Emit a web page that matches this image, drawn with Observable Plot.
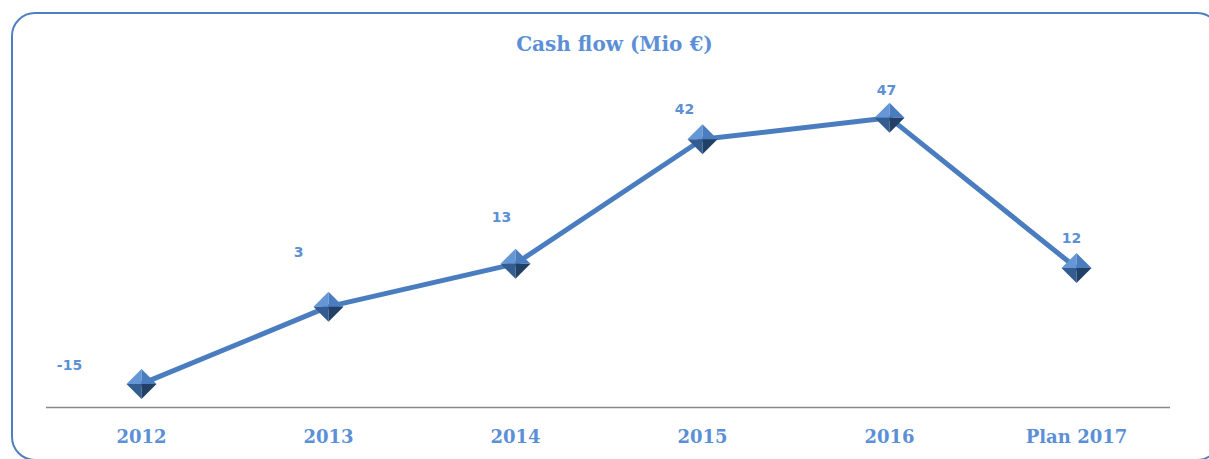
<!DOCTYPE html>
<html>
<head>
<meta charset="utf-8">
<script src="https://cdn.jsdelivr.net/npm/d3@7"></script>
<script src="https://cdn.jsdelivr.net/npm/@observablehq/plot@0.6"></script>
<style>
  html, body { margin: 0; padding: 0; background: #fff; }
  #wrap { position: relative; width: 1209px; height: 459px; overflow: hidden; }
  #frame { position: absolute; left: 11px; top: 12px; width: 1210px; height: 449px;
           border: 2px solid #4f7fc0; border-radius: 24px; box-sizing: border-box; }
  #title { position: absolute; left: 0; top: 32px; width: 1229px; text-align: center;
           font-family: "DejaVu Serif", serif; font-weight: bold; font-size: 20px; color: #5b8fd6; }
  #chart { position: absolute; left: 0; top: 0; }
</style>
</head>
<body>
<div id="wrap">
  <div id="frame"></div>
  <div id="title">Cash flow (Mio €)</div>
  <div id="chart"></div>
</div>
<script>
const categories = ["2012", "2013", "2014", "2015", "2016", "Plan 2017"];
const cashFlow = [-15, 3, 13, 42, 47, 12];
const labels = ["-15", "3", "13", "42", "47", "12"];

const data = categories.map((c, i) => ({cat: c, value: cashFlow[i], label: labels[i]}));
const yDomain = [-20.5, 55];

// label offsets (style: manual placement like the original)
const labelOffsets = [[-72, -18], [-30, -54], [-14, -46], [-18, -30], [-3, -27], [-5, -30]];

function facet(points) {
  return {
    draw(context, size) {
      const r = Math.sqrt(size) * 0.62625;
      context.moveTo(points[0][0] * r, points[0][1] * r);
      for (let k = 1; k < points.length; k++) context.lineTo(points[k][0] * r, points[k][1] * r);
      context.closePath();
    }
  };
}
const facets = [
  {sym: facet([[0, -1], [0, 0], [-1, 0]]), fill: "#6596d6"},
  {sym: facet([[0, -1], [1, 0], [0, 0]]), fill: "#4a7cc0"},
  {sym: facet([[-1, 0], [0, 0], [0, 1]]), fill: "#335c90"},
  {sym: facet([[0, 0], [1, 0], [0, 1]]), fill: "#223f66"}
];

const labelMarks = data.map((d, i) => Plot.text([d], {
  x: "cat", y: "value", text: "label",
  dx: labelOffsets[i][0], dy: labelOffsets[i][1],
  fill: "#5b8fd6", fontWeight: "bold", fontSize: 14, fontFamily: "DejaVu Sans, sans-serif"
}));

const chart = Plot.plot({
  width: 1209,
  height: 459,
  marginLeft: 46,
  marginRight: 39,
  marginTop: 83,
  marginBottom: 52,
  style: {background: "transparent", overflow: "visible"},
  x: {type: "point", domain: categories, padding: 0.5, label: null},
  y: {domain: yDomain, axis: null},
  marks: [
    Plot.ruleY([yDomain[0]], {stroke: "#8a8a8a", strokeWidth: 1.5}),
    Plot.axisX({tickSize: 0, tickPadding: 23, fontSize: 18, fontWeight: "bold",
                fontFamily: "DejaVu Serif, serif", fill: "#5b8fd6", label: null}),
    Plot.line(data, {x: "cat", y: "value", stroke: "#4a7dbf", strokeWidth: 5, strokeLinejoin: "round"}),
    ...facets.map(f => Plot.dot(data, {x: "cat", y: "value", symbol: f.sym, r: 13.5, fill: f.fill, stroke: "none"})),
    ...labelMarks
  ]
});
document.getElementById("chart").appendChild(chart);
</script>
</body>
</html>
